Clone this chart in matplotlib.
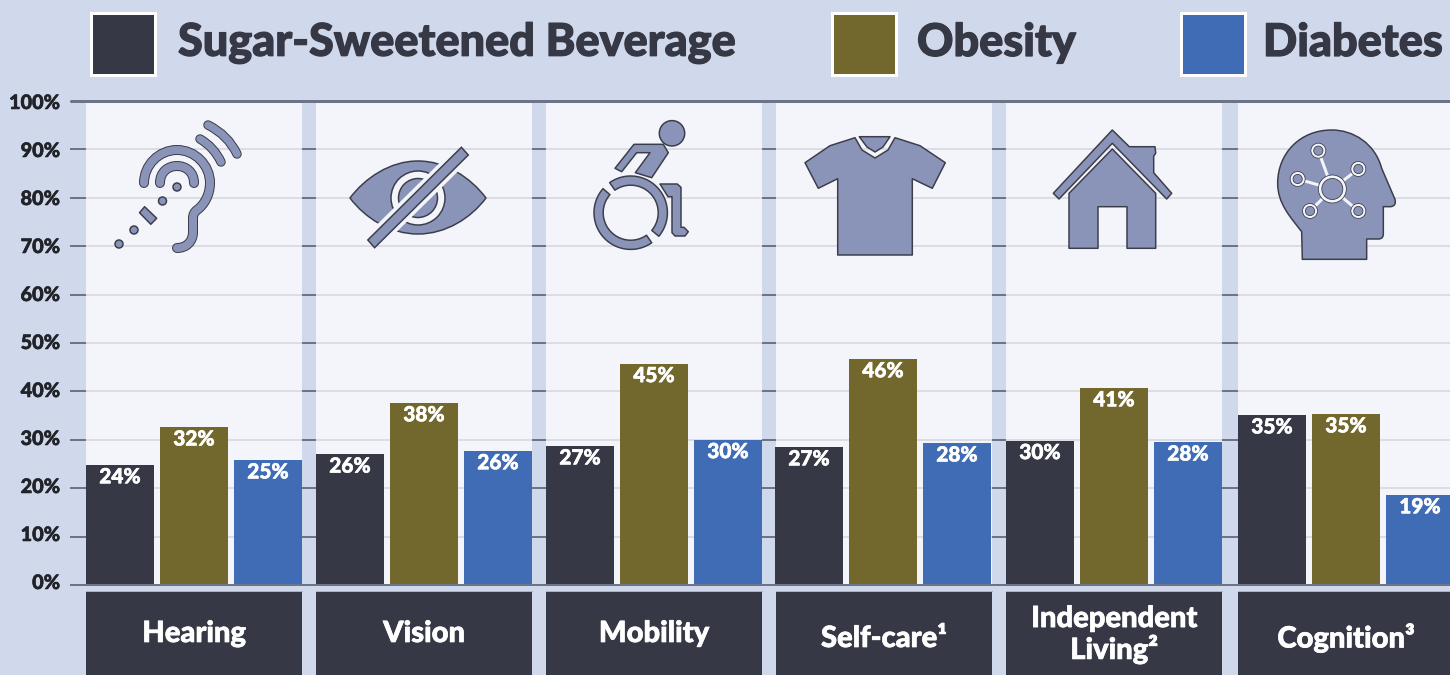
import numpy as np
from matplotlib import pyplot as plt
from matplotlib import patheffects as pe
from matplotlib.path import Path
from matplotlib.patches import PathPatch, Polygon, Rectangle, Circle
from matplotlib.transforms import ScaledTranslation

categories = ["Hearing", "Vision", "Mobility", "Self-care¹", "Independent\nLiving²", "Cognition³"]
series = ["Sugar-Sweetened Beverage", "Obesity", "Diabetes"]
beverage = [24.8, 27.0, 28.7, 28.5, 29.8, 35.1]
obesity = [32.6, 37.6, 45.7, 46.7, 40.7, 35.3]
diabetes = [25.8, 27.7, 30.0, 29.3, 29.5, 18.6]
beverage_labels = ["24%", "26%", "27%", "27%", "30%", "35%"]
obesity_labels = ["32%", "38%", "45%", "46%", "41%", "35%"]
diabetes_labels = ["25%", "26%", "30%", "28%", "28%", "19%"]
y_ticks = [0, 10, 20, 30, 40, 50, 60, 70, 80, 90, 100]

BG = "#d0d9ec"
PANEL = "#f3f5fb"
DARK = "#363945"
OLIVE = "#72672d"
BLUE = "#3f6cb4"
ICON = "#8a94b8"
EDGE = "#3b3d4a"
TICK = "#6f7388"
GRID = "#dcdde3"
W, H = 1450, 675
PX = 0.72  # points per pixel at dpi 100

plt.rcParams["font.family"] = ["Lato", "DejaVu Sans"]


def heavy(col, w=0.7):
    return [pe.withStroke(linewidth=w, foreground=col)]


fig = plt.figure(figsize=(W / 100, H / 100), dpi=100, facecolor=BG)
ax = fig.add_axes([70 / W, (H - 585) / H, 1380 / W, 484 / H], facecolor=BG)
ax.set_xlim(70, W)
ax.set_ylim(0, 100)
for s in ax.spines.values():
    s.set_visible(False)
ax.set_xticks([])
ax.set_yticks(y_ticks)
ax.set_yticklabels([f"{v}%" for v in y_ticks], fontsize=14.3, fontweight="black", color="#222328")
ax.tick_params(axis="y", length=0, pad=7)
# the labels in the reference sit a little above their ticks towards the bottom
for v, lab in zip(y_ticks, ax.get_yticklabels()):
    lab.set_path_effects(heavy("#222328", 0.4))
    lab.set_transform(lab.get_transform() + ScaledTranslation(0, 4 * (1 - v / 100) / 100, fig.dpi_scale_trans))

group_left = [86, 316, 546, 776, 1006, 1238]
bar_left = [86, 316, 546, 775, 1006, 1238]
panel_w = 216
bar_w = 68
step = 74

ax.hlines(y_ticks, 70, W, color=TICK, lw=2 * PX, zorder=1)
for x0 in group_left:
    ax.axvspan(x0, x0 + panel_w, color=PANEL, lw=0, zorder=2)
    ax.hlines(y_ticks[1:-1], x0, x0 + panel_w, color=GRID, lw=2 * PX, zorder=3)
ax.hlines(100, 70, W, color=TICK, lw=3 * PX, zorder=5, clip_on=False)
ax.hlines(0, 70, W, color=TICK, lw=2 * PX, zorder=5, clip_on=False)

values = [beverage, obesity, diabetes]
labels = [beverage_labels, obesity_labels, diabetes_labels]
colors = [DARK, OLIVE, BLUE]
for i in range(3):
    xs = [x0 + step * i + bar_w / 2 for x0 in bar_left]
    ax.bar(xs, values[i], width=bar_w, color=colors[i], zorder=4)
    for x, v, lab in zip(xs, values[i], labels[i]):
        ax.annotate(lab, (x, v), xytext=(0, -8.5), textcoords="offset points", ha="center", va="center",
                    color="white", fontsize=15, fontweight="black", zorder=6, annotation_clip=False,
                    path_effects=heavy("white", 0.4))

# overlay in picture pixels for legend, category boxes and icons
ov = fig.add_axes([0, 0, 1, 1], facecolor="none")
ov.set_xlim(0, W)
ov.set_ylim(H, 0)
ov.axis("off")

for x0, txt_x, col, name in zip([91, 832, 1181], [178, 917, 1263], colors, series):
    ov.add_patch(Rectangle((x0, 13), 64, 62, fc=col, ec="white", lw=3 * PX))
    ov.text(txt_x, 43, name, color=DARK, fontsize=32.4, fontweight="black", va="center", ha="left",
            path_effects=heavy(DARK, 0.9))

for x0, name, yc in zip(group_left, categories, [634, 634, 634, 639, 635, 638]):
    ov.add_patch(Rectangle((x0, 592), panel_w, H - 592, fc=DARK, ec="none"))
    ov.plot([x0, x0 + panel_w], [590.8, 590.8], color="#aab2c8", lw=1 * PX)
    ov.text(x0 + panel_w / 2, yc, name, color="white", fontsize=21, fontweight="black",
            ha="center", va="center", linespacing=1.12, path_effects=heavy("white", 0.5))


def shape(pts, codes=None, fc=ICON, ec=EDGE):
    if codes is None:
        ov.add_patch(Polygon(pts, closed=True, fc=fc, ec=ec, lw=1.5 * PX, joinstyle="round", zorder=2))
    else:
        ov.add_patch(PathPatch(Path(pts, codes), fc=fc, ec=ec, lw=1.5 * PX, joinstyle="round", zorder=2))


def stroke(pts, codes, w):
    p = Path(pts, codes)
    ov.add_patch(PathPatch(p, fc="none", ec=EDGE, lw=(w + 2) * PX, capstyle="round", zorder=2))
    ov.add_patch(PathPatch(p, fc="none", ec=ICON, lw=w * PX, capstyle="round", zorder=2))


def band(cx, cy, r0, r1, a0, a1):
    t = np.radians(np.linspace(a0, a1, 60))
    outer = np.c_[cx + r1 * np.cos(t), cy - r1 * np.sin(t)]
    inner = np.c_[cx + r0 * np.cos(t[::-1]), cy - r0 * np.sin(t[::-1])]
    shape(np.vstack([outer, inner]))


def dot(x, y, r, fc=ICON, ec=EDGE):
    ov.add_patch(Circle((x, y), r, fc=fc, ec=ec, lw=1.5 * PX, zorder=2))


M, L, C3, C4, Z = Path.MOVETO, Path.LINETO, Path.CURVE3, Path.CURVE4, Path.CLOSEPOLY

# ear
for x, y in [(119, 244), (134, 230), (162.5, 201), (177, 187)]:
    dot(x, y, 4)
shape([(144.6, 206.7), (156.7, 218.3), (150.8, 224.3), (139.5, 212.7)])
stroke([(160, 183), (160, 172), (168, 166), (177, 166), (186, 166), (194, 172), (194, 183)],
       [M, C4, C4, C4, C4, C4, C4], 8)
stroke([(144, 183), (144, 165), (159, 150), (177, 150), (195, 150), (210, 165), (210, 183),
        (210, 195), (204, 205), (197, 210), (193, 213), (193, 218), (193, 232), (193, 242), (186, 248), (177, 248)],
       [M, C4, C4, C4, C4, C4, C4, C4, C4, C4, C3, C3, L, C4, C4, C4], 8)
stroke([(200, 139), (214, 147), (221, 162)], [M, C3, C3], 7.5)
stroke([(208, 125), (228, 135), (237, 154)], [M, C3, C3], 7.5)

# eye
shape([(350, 198), (365, 178), (390, 161), (418, 161), (446, 161), (471, 178), (486, 198),
       (471, 218), (446, 234), (418, 234), (390, 234), (365, 218), (350, 198), (350, 198)],
      [M, C4, C4, C4, C4, C4, C4, C4, C4, C4, C4, C4, C4, Z])
dot(418, 198, 27, fc=PANEL)
dot(418, 198, 19.5)
ov.plot([382, 455], [233, 161], color=PANEL, lw=19 * PX, solid_capstyle="butt", zorder=2.1)
ov.add_patch(Polygon([(461.4, 147.3), (468.3, 155), (374.6, 247.7), (367.8, 240)], closed=True,
                     fc=ICON, ec=EDGE, lw=1.5 * PX, zorder=2.2))

# wheelchair
dot(672, 133.3, 12.7)
shape([(634, 144.3), (663.3, 144.3), (668.3, 152.7), (651.7, 177.7), (635.3, 172.7), (650, 152.7),
       (636.7, 152.7), (621.7, 171.7), (615, 168.3)])
band(630.7, 212.7, 27.5, 36.7, -40, 125)
band(630.7, 212.7, 27.5, 36.7, 139, 305)
shape([(660, 184), (677.3, 184), (681, 187.3), (681, 227.3), (684, 227.3), (688.3, 231.7), (685, 236),
       (675, 236), (672, 232.7), (672, 196.7), (668, 196.7)])

# t-shirt
shape([(855, 137.7), (830, 145.7), (805, 162.7), (818.3, 188.3), (837.7, 178.7), (837.7, 255),
       (912.3, 255), (912.3, 178.7), (932.3, 188.3), (945.3, 162.7), (920, 145.7), (895, 137.7),
       (888, 150), (875, 158), (862, 150)])
shape([(859.3, 136.7), (890, 136.7), (883, 147), (875, 152), (867, 147)])

# house
shape([(1112.3, 130), (1129.3, 146.7), (1155, 146.7), (1155.7, 153.3), (1153.7, 156), (1153.7, 172.7),
       (1171.7, 193.3), (1166.7, 199), (1112.3, 143.3), (1059, 199), (1053.3, 193.3)])
shape([(1112.3, 149), (1155.7, 193.3), (1155.7, 248.3), (1127, 248.3), (1127, 206.7), (1098, 206.7),
       (1098, 248.3), (1069, 248.3), (1069, 193.3)])

# head
head = np.array([(907, 478), (1100, 478), (1100, 417), (1135, 417), (1150, 417), (1150, 402), (1150, 320),
                 (1172, 320), (1190, 318), (1185, 298), (1145, 205), (1125, 130), (1060, 90), (995, 90),
                 (900, 90), (833, 160), (833, 250), (833, 310), (870, 350), (905, 395), (907, 478)]) / 3 + [1000, 100]
shape(head, [M, L, L, L, C3, C3, L, L, C3, C3, L, C4, C4, C4, C4, C4, C4, C4, C4, C4, Z])
hub = np.array([997, 267]) / 3 + [1000, 100]
nodes = np.array([(955, 152), (1075, 207), (893, 237), (930, 333), (1075, 333)]) / 3 + [1000, 100]
for n in nodes:
    ov.plot([hub[0], n[0]], [hub[1], n[1]], color=PANEL, lw=3 * PX, zorder=3)
for n in nodes:
    ov.add_patch(Circle(n, 7.5, fc=PANEL, ec=EDGE, lw=0.8 * PX, zorder=4))
    ov.add_patch(Circle(n, 4.6, fc=ICON, ec=EDGE, lw=0.8 * PX, zorder=4))
ov.add_patch(Circle(hub, 14, fc=PANEL, ec=EDGE, lw=0.8 * PX, zorder=4))
ov.add_patch(Circle(hub, 10.5, fc=ICON, ec=EDGE, lw=0.8 * PX, zorder=4))

fig.savefig("out.png", dpi=100, facecolor=BG)
